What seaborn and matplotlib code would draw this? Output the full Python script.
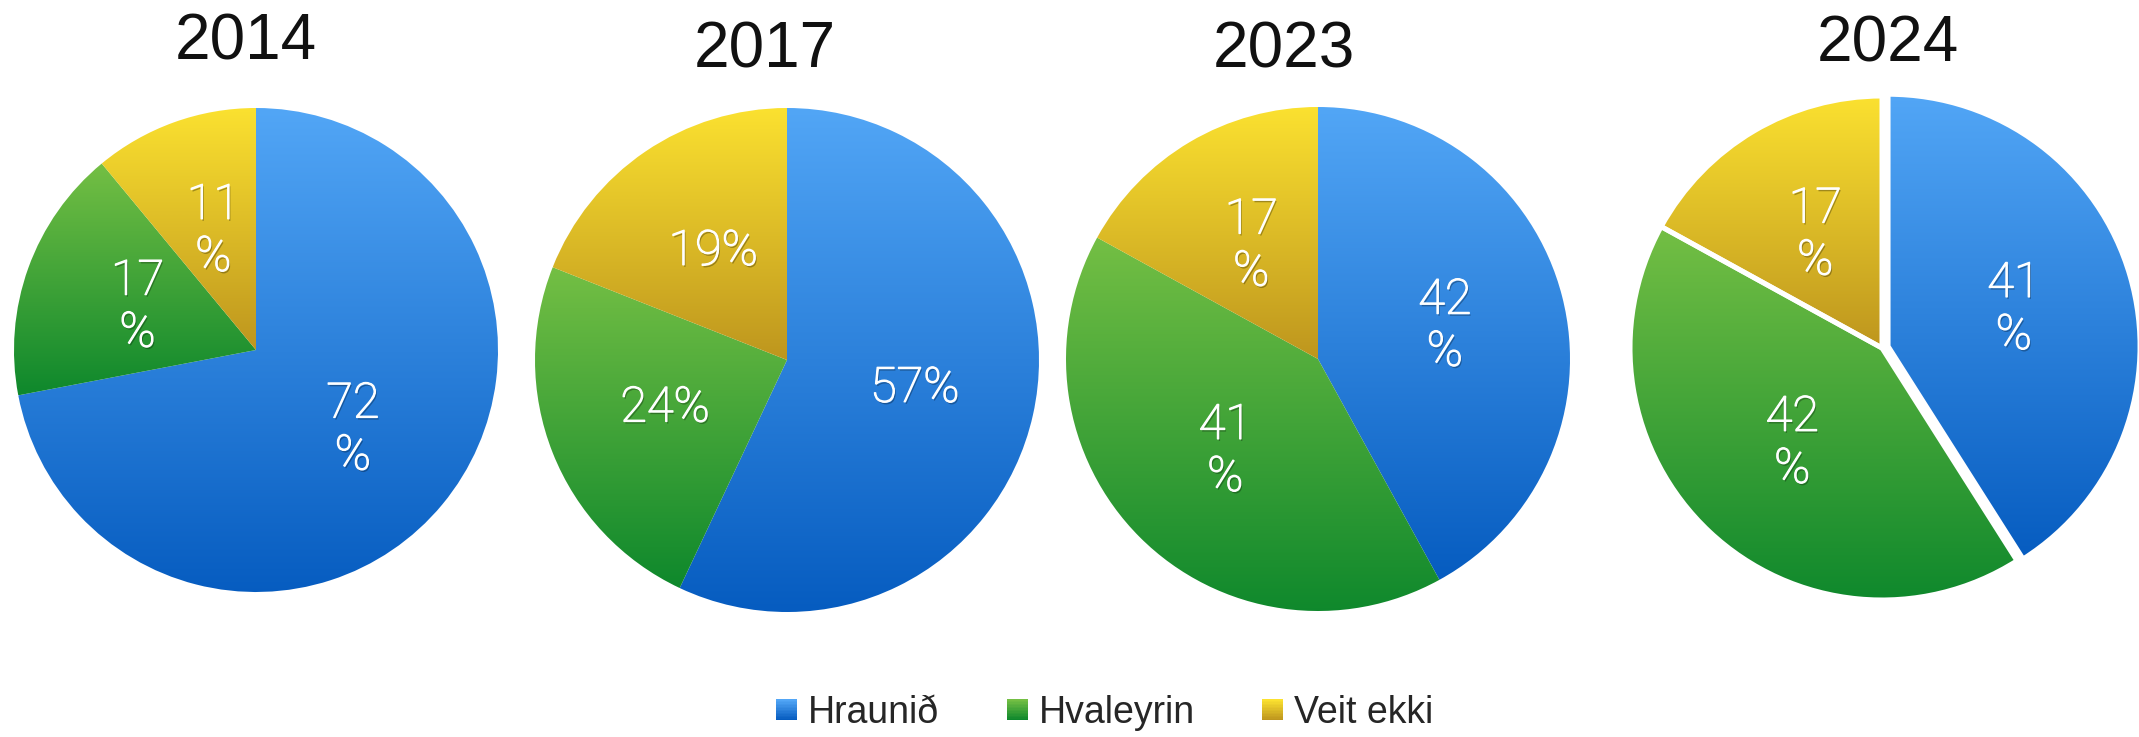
import numpy as np
import matplotlib
matplotlib.use("Agg")
import matplotlib.pyplot as plt
import matplotlib.patheffects as pe
import seaborn as sns
from matplotlib.colors import LinearSegmentedColormap
from matplotlib.patches import Patch, Rectangle
from matplotlib.legend_handler import HandlerBase

sns.set_theme(style="white")
plt.rcParams['font.family'] = ['Liberation Sans', 'DejaVu Sans']

# ---- data ----
years = ["2014", "2017", "2023", "2024"]
categories = ["Hraunið", "Hvaleyrin", "Veit ekki"]
hraunid = [72, 57, 42, 41]
hvaleyrin = [17, 24, 41, 42]
veit_ekki = [11, 19, 17, 17]
label_formats = ["{:.0f}\n%", "{:.0f}%", "{:.0f}\n%", "{:.0f}\n%"]

# ---- style ----
top_colors = ["#52A6F6", "#74BF44", "#FBE130"]
bottom_colors = ["#065CC0", "#0E882C", "#BE961E"]

W, H = 2139, 737
fig = plt.figure(figsize=(W / 100, H / 100), dpi=100)
fig.patch.set_facecolor("white")

# pie centres / radii in pixels (layout)
centers = [(256, 350), (787, 360), (1318, 359), (1882, 348)]
radii = [242, 252, 252, 252]
title_pos = [(246, 43), (765, 50), (1284, 50), (1888, 45)]
explodes = [(0, 0, 0), (0, 0, 0), (0, 0, 0), (0.025, 0, 0)]
edge_w = [0, 0, 0, 3.6]

LIM = 1.12
for i, yr in enumerate(years):
    cx, cy = centers[i]
    R = radii[i]
    half = R * LIM
    ax = fig.add_axes([(cx - half) / W, 1 - (cy + half) / H, 2 * half / W, 2 * half / H])
    vals = [hraunid[i], hvaleyrin[i], veit_ekki[i]]
    fmt = label_formats[i]
    wedges, texts, autotexts = ax.pie(
        vals, startangle=90, counterclock=False, explode=explodes[i],
        autopct=lambda p, fmt=fmt: fmt.format(p), pctdistance=0.52,
        colors=top_colors,
        wedgeprops=dict(edgecolor="white", linewidth=edge_w[i]),
        textprops=dict(color="white", fontsize=35, family=["Roboto", "DejaVu Sans"],
                       fontweight="light", linespacing=1.15),
    )
    for j, w in enumerate(wedges):
        path = w.get_patch_transform().transform_path(w.get_path())
        verts = path.vertices
        x0, x1 = verts[:, 0].min(), verts[:, 0].max()
        y0, y1 = verts[:, 1].min(), verts[:, 1].max()
        cmap = LinearSegmentedColormap.from_list(f"g{i}{j}", [bottom_colors[j], top_colors[j]])
        grad = np.linspace(1, 0, 256).reshape(-1, 1)
        im = ax.imshow(grad, cmap=cmap, extent=(x0, x1, y0, y1), aspect="auto",
                       origin="upper", zorder=0.5, interpolation="bilinear")
        im.set_clip_path(w)
        w.set_facecolor("none")
        w.set_zorder(1)
    for t in autotexts:
        t.set_zorder(3)
        t.set_path_effects([pe.SimplePatchShadow(offset=(1, -1.5), shadow_rgbFace="black", alpha=0.3),
                            pe.Stroke(linewidth=0.9, foreground="white"),
                            pe.Normal()])
    ax.set_xlim(-LIM, LIM)
    ax.set_ylim(-LIM, LIM)
    ax.set_aspect("auto")
    ax.axis("off")
    tx, ty = title_pos[i]
    fig.text(tx / W, 1 - ty / H, yr, ha="center", va="center", fontsize=46, color="#111111")


class GradientHandler(HandlerBase):
    def __init__(self, top, bottom, n=14):
        super().__init__()
        self.top, self.bottom, self.n = top, bottom, n

    def create_artists(self, legend, orig_handle, xdescent, ydescent, width, height, fontsize, trans):
        side = min(width, height)
        x0 = -xdescent + (width - side) / 2
        y0 = -ydescent + (height - side) / 2
        cmap = LinearSegmentedColormap.from_list("lg", [self.bottom, self.top])
        arts = []
        for k in range(self.n):
            r = Rectangle((x0, y0 + side * k / self.n), side, side / self.n + 0.4,
                          facecolor=cmap(k / (self.n - 1)), edgecolor="none", transform=trans)
            arts.append(r)
        return arts


handles = [Patch(facecolor=top_colors[k]) for k in range(3)]
hmap = {handles[k]: GradientHandler(top_colors[k], bottom_colors[k]) for k in range(3)}
fig.legend(handles, categories, handler_map=hmap, loc="center",
           bbox_to_anchor=(1105 / W, 1 - 713 / H), ncol=3, frameon=False,
           fontsize=27, handlelength=0.55, handleheight=0.55, handletextpad=0.3,
           columnspacing=1.8, borderaxespad=0)

fig.savefig("out.png", dpi=100, facecolor="white")
